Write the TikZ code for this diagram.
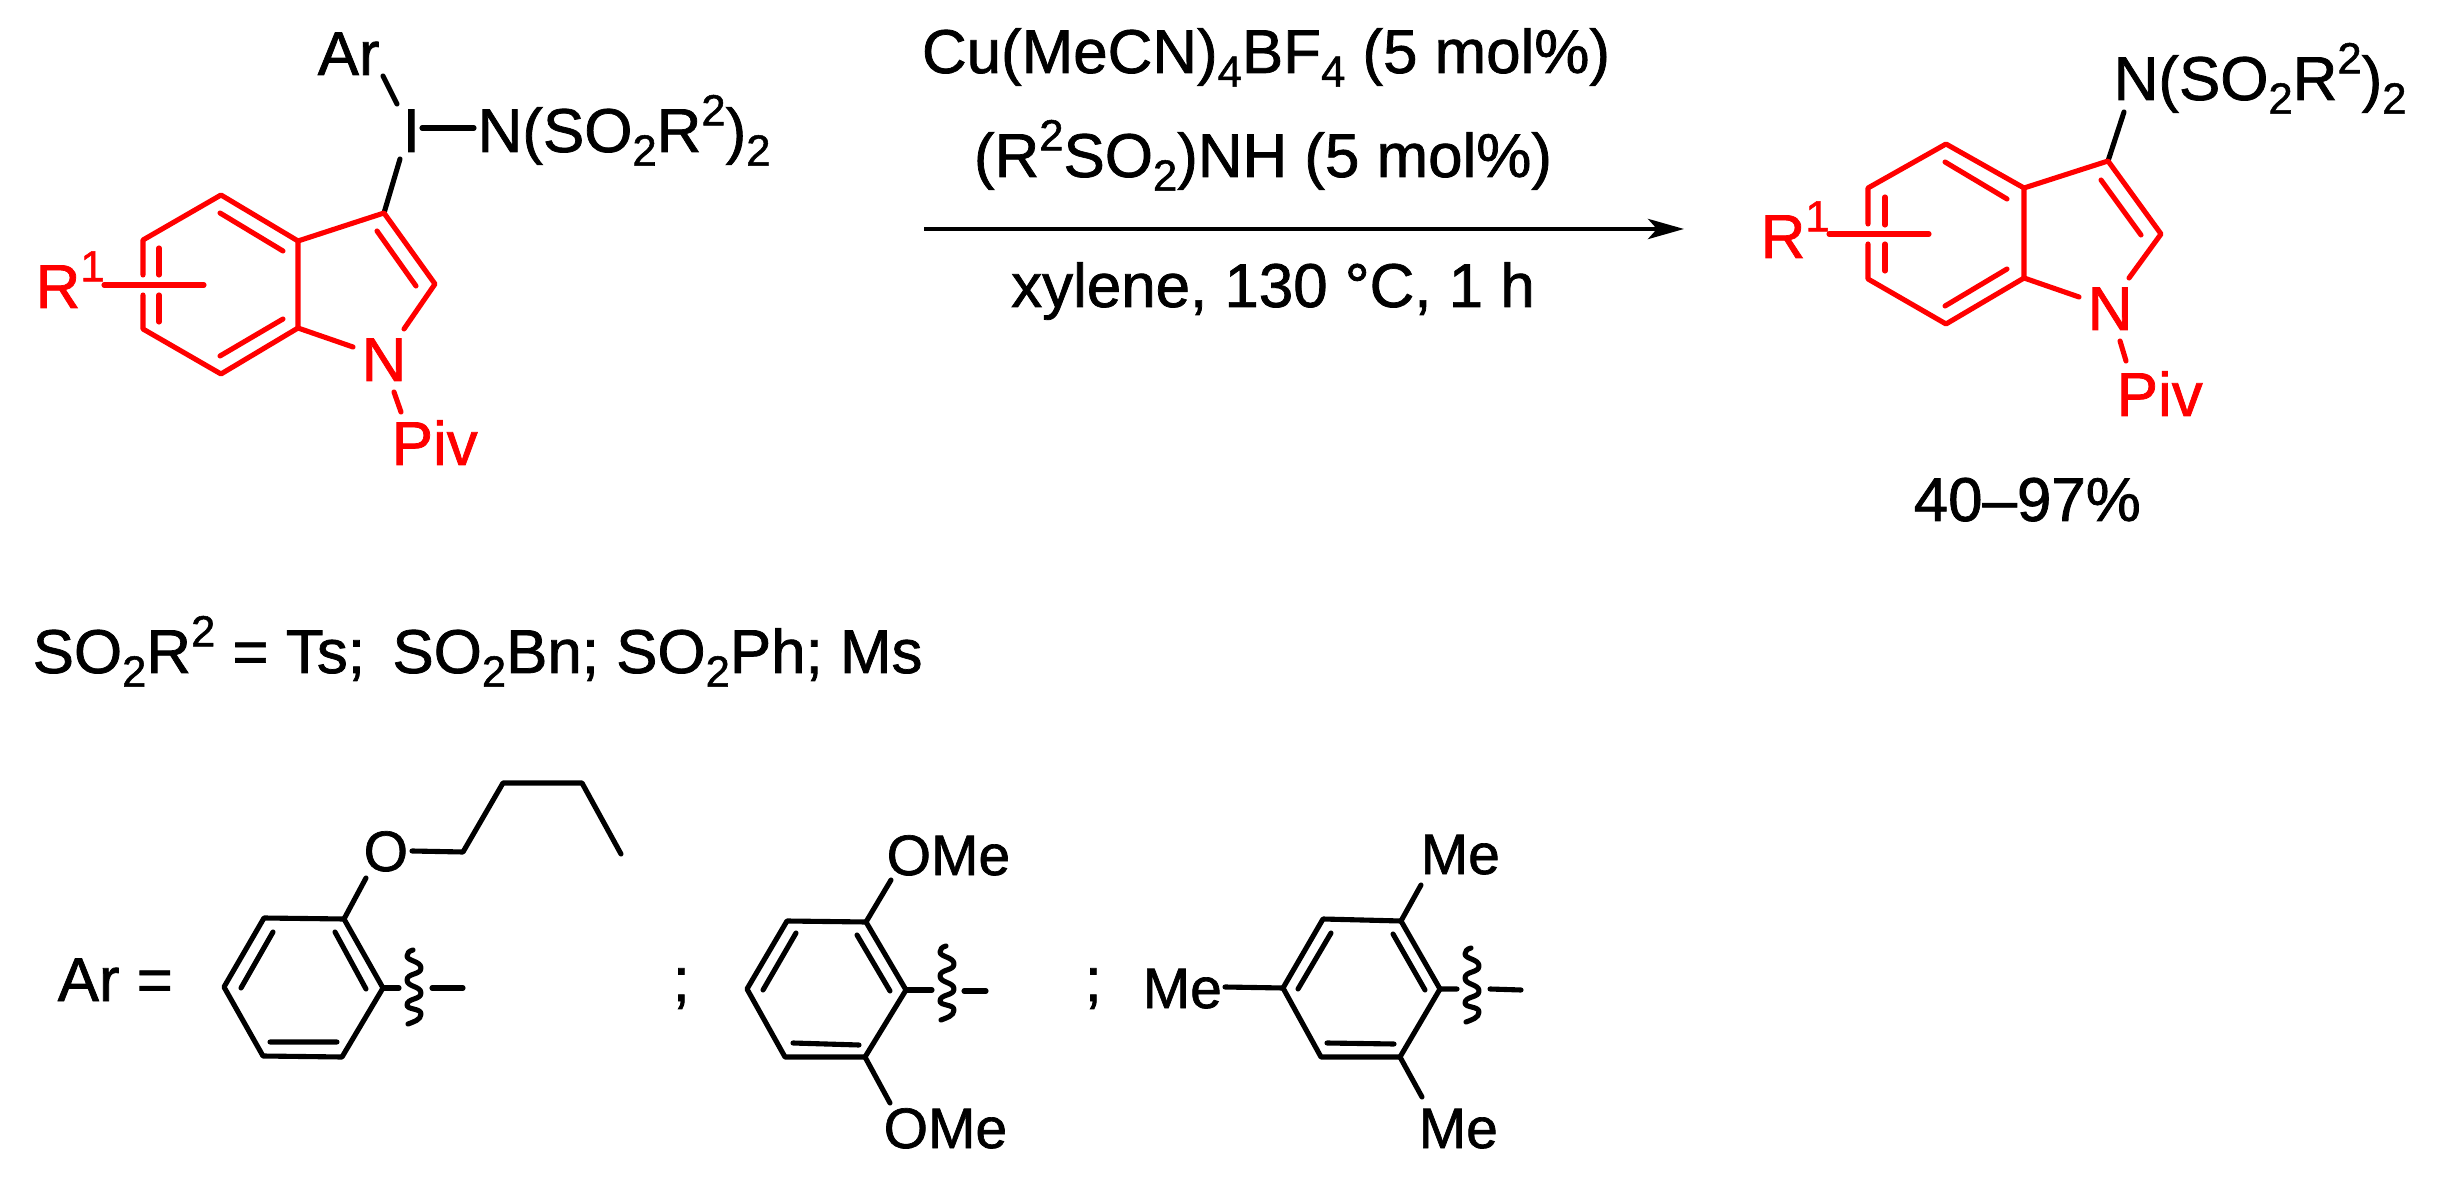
\documentclass[tikz,border=0pt]{standalone}
\usepackage{fontspec}
\usetikzlibrary{arrows.meta}
\setmainfont[FakeBold=1.2]{Liberation Sans}
\definecolor{indred}{RGB}{255,0,0}
\tikzset{
  chem/.style={line width=1.45pt,line cap=round,line join=round},
  redbond/.style={chem,indred},
  label/.style={inner sep=0pt,anchor=base west,font=\fontsize{17.6}{20}\selectfont},
  redlabel/.style={label,text=indred},
  smalllabel/.style={label,font=\fontsize{16.2}{20}\selectfont},
}
\newcommand{\subs}[1]{\raisebox{-0.22em}{\fontsize{12.4}{12}\selectfont #1}}
\newcommand{\sups}[1]{\raisebox{0.43em}{\fontsize{12.4}{12}\selectfont #1}}
% wavy cut mark, x y are the top left of the mark
\newcommand{\wavy}[2]{\draw[chem,shift={(#1,#2)}] (6,0) .. controls (2,1) and (0,3) .. (0,6) .. controls (0,11) and (14,11) .. (14,18) .. controls (14,25) and (0,23) .. (0,30) .. controls (0,37) and (14,36) .. (14,43) .. controls (14,50) and (0,48) .. (0,55) .. controls (0,60) and (14,58) .. (14,64) .. controls (14,70) and (6,72) .. (1,74);}
\begin{document}
\begin{tikzpicture}[x=0.01cm,y=-0.01cm]
	\useasboundingbox (0,0) rectangle (2440,1180);
	% starting material
	\node[label] (ar) at (317,75) {Ar};
	\node[label] (iod) at (402,152) {I};
	\node[label] (nso) at (477,152) {N(SO\subs{2}R\sups{2})\subs{2}};
	\node[redlabel] (na) at (361,381) {N};
	\node[redlabel] (piva) at (391,465) {Piv};
	\node[redlabel] (ra) at (35,308) {R\sups{1}};
	\draw[chem] (383,76) -- (397,104);
	\draw[chem] (422,128) -- (474,128);
	\draw[chem] (400,159) -- (384,213);
	\draw[redbond] (143,275) -- (143,240) -- (221,195) -- (298,241) -- (298,328) -- (221,374) -- (143,329) -- (143,295);
	\draw[redbond] (298,241) -- (384,213) -- (435,284) -- (404,329);
	\draw[redbond] (298,328) -- (353,347);
	\draw[redbond] (394,392) -- (401,412);
	\draw[redbond] (104,285) -- (204,285);
	\draw[redbond] (159,248) -- (159,275) (159,295) -- (159,322);
	\draw[redbond] (220,213) -- (283,251) (283,319) -- (220,356);
	\draw[redbond] (377,231) -- (416,286);
	% reaction arrow and conditions
	\node[label,anchor=base] (cat) at (1266,73) {Cu(MeCN)\subs{4}BF\subs{4} (5 mol\%)};
	\node[label,anchor=base] (add) at (1263,177) {(R\sups{2}SO\subs{2})NH (5 mol\%)};
	\node[label,anchor=base] (sol) at (1273,307) {xylene, 130 °C, 1 h};
	\coordinate (arrowstart) at (924,229);
	\coordinate (arrowend) at (1684,229);
	\draw[line width=1.3pt,-{Stealth[length=10.2pt,width=5.7pt,inset=2.5pt]}] (arrowstart) -- (arrowend);
	% product
	\node[label] (nsob) at (2113,100) {N(SO\subs{2}R\sups{2})\subs{2}};
	\node[redlabel] (nb) at (2087,330) {N};
	\node[redlabel] (pivb) at (2116,416) {Piv};
	\node[redlabel] (rb) at (1760,258) {R\sups{1}};
	\node[label] (yield) at (1913,521) {40–97\%};
	\draw[chem] (2124,112) -- (2108,161);
	\draw[redbond] (1868,224) -- (1868,188) -- (1946,144) -- (2024,188) -- (2024,278) -- (1946,324) -- (1868,279) -- (1868,244);
	\draw[redbond] (2024,188) -- (2108,161) -- (2161,234) -- (2129,278);
	\draw[redbond] (2024,278) -- (2079,297);
	\draw[redbond] (2120,341) -- (2126,361);
	\draw[redbond] (1829,234) -- (1929,234);
	\draw[redbond] (1885,197) -- (1885,225) (1885,244) -- (1885,271);
	\draw[redbond] (1945,162) -- (2007,199) (2007,269) -- (1945,306);
	\draw[redbond] (2101,180) -- (2141,235);
	% legend
	\node[label] (sul) at (32,673) {SO\subs{2}R\sups{2} = Ts;\, SO\subs{2}Bn; SO\subs{2}Ph; Ms};
	\node[label] (arl) at (57,1001) {Ar =};
	% butoxy aryl
	\node[smalllabel] (oa) at (363,871) {O};
	\draw[chem] (264,918) -- (344,919) -- (383,988) -- (342,1057) -- (263,1056) -- (224,987) -- cycle;
	\draw[chem] (273,932) -- (241,988) (335,932) -- (366,989) (270,1042) -- (337,1042);
	\draw[chem] (344,919) -- (366,878);
	\draw[chem] (412,851) -- (463,852) -- (503,783) -- (582,783) -- (621,854);
	\draw[chem] (383,988) -- (399,988) (432,988) -- (463,988);
	\wavy{407}{950}
	\node[label] (semia) at (672,1001) {;};
	% dimethoxy aryl
	\node[smalllabel] (omea) at (886,875) {OMe};
	\node[smalllabel] (omeb) at (883,1148) {OMe};
	\draw[chem] (787,921) -- (866,922) -- (906,990) -- (865,1057) -- (785,1057) -- (747,989) -- cycle;
	\draw[chem] (796,933) -- (763,990) (857,935) -- (890,991) (793,1043) -- (859,1045);
	\draw[chem] (866,922) -- (891,880) (865,1057) -- (890,1103);
	\draw[chem] (906,990) -- (932,990) (964,991) -- (986,991);
	\wavy{940}{946}
	\node[label] (semib) at (1084,1001) {;};
	% mesityl
	\node[smalllabel] (mea) at (1142,1008) {Me};
	\node[smalllabel] (meb) at (1420,874) {Me};
	\node[smalllabel] (mec) at (1418,1148) {Me};
	\draw[chem] (1323,919) -- (1401,921) -- (1440,989) -- (1400,1057) -- (1321,1057) -- (1283,988) -- cycle;
	\draw[chem] (1331,933) -- (1298,989) (1393,934) -- (1425,990) (1327,1043) -- (1394,1044);
	\draw[chem] (1225,987) -- (1283,988) (1401,921) -- (1421,885) (1400,1057) -- (1422,1097);
	\draw[chem] (1440,989) -- (1457,989) (1490,989) -- (1521,990);
	\wavy{1465}{948}
\end{tikzpicture}
\end{document}
